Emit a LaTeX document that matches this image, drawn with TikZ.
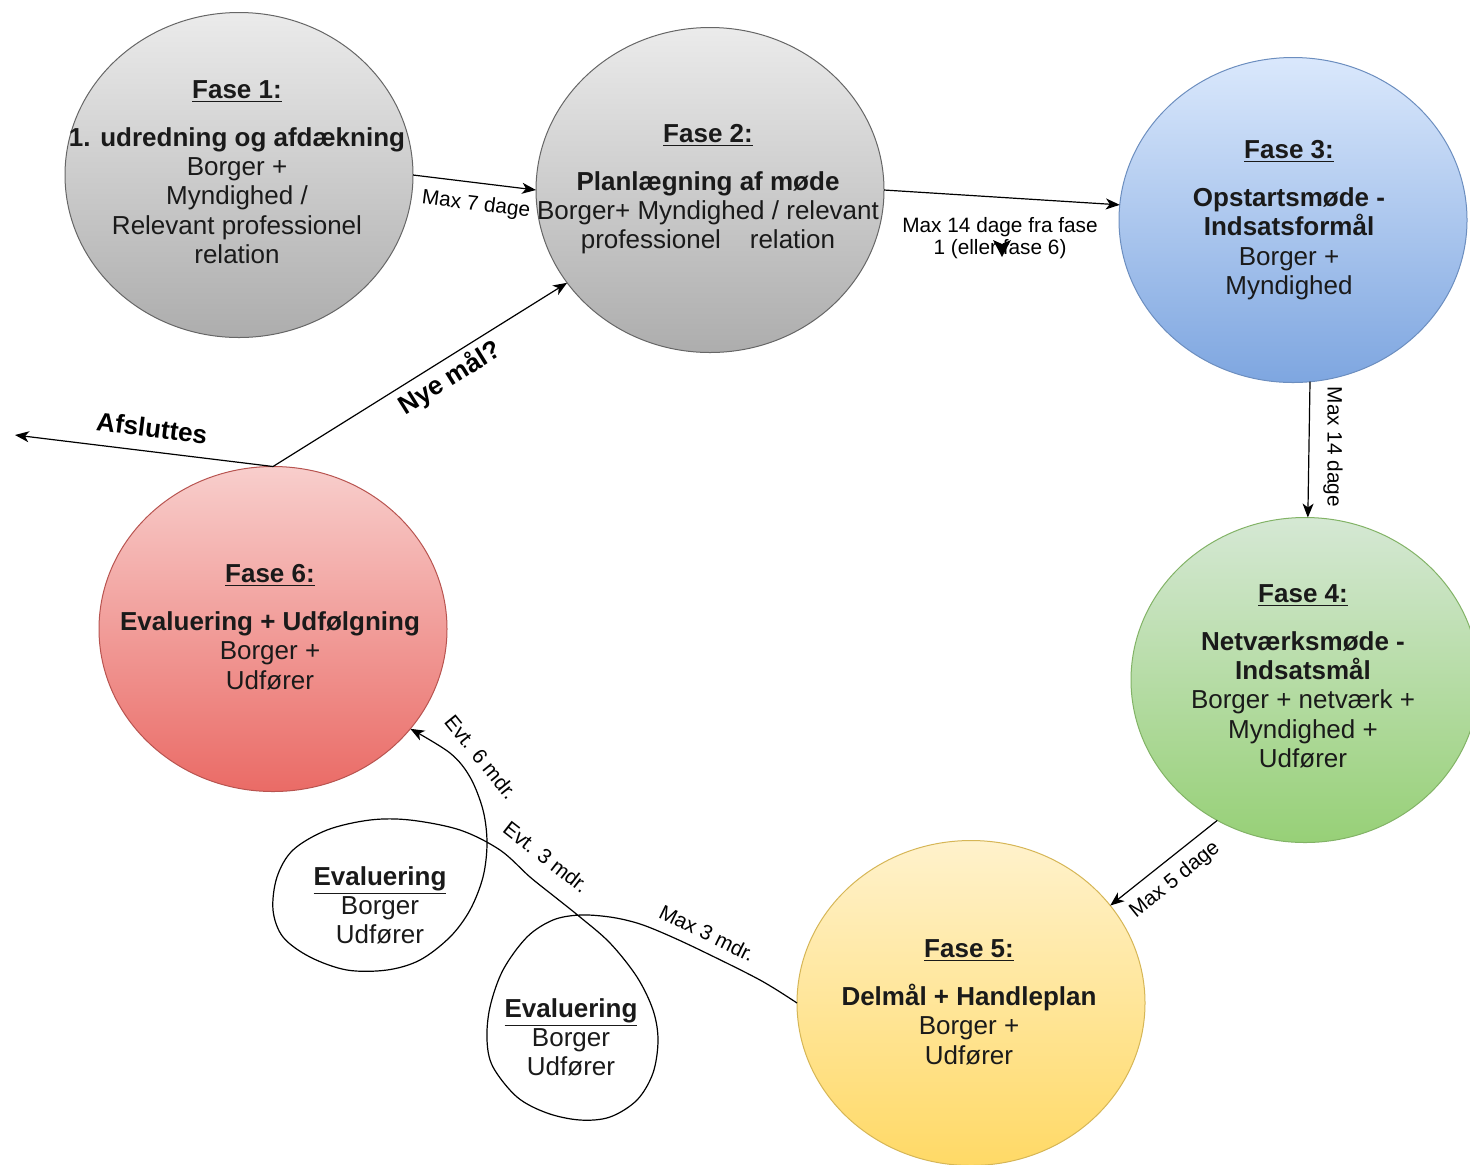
\documentclass[tikz,border=0pt]{standalone}
\usepackage{fontspec}
\setmainfont{Liberation Sans}
\usetikzlibrary{shapes.geometric,arrows.meta}
\definecolor{grayT}{HTML}{EBEBEB}
\definecolor{grayB}{HTML}{ADADAD}
\definecolor{grayD}{HTML}{666666}
\definecolor{blueT}{HTML}{DAE8FC}
\definecolor{blueB}{HTML}{7EA6E0}
\definecolor{blueD}{HTML}{6C8EBF}
\definecolor{greenT}{HTML}{D5E8D4}
\definecolor{greenB}{HTML}{97D077}
\definecolor{greenD}{HTML}{82B366}
\definecolor{yelT}{HTML}{FFF2CC}
\definecolor{yelB}{HTML}{FFD966}
\definecolor{yelD}{HTML}{D6B656}
\definecolor{redT}{HTML}{F8CECC}
\definecolor{redB}{HTML}{EA6B66}
\definecolor{redD}{HTML}{B85450}
\definecolor{txt}{HTML}{1A1A1A}
\tikzset{
  phase/.style={ellipse, draw, line width=0.5pt, minimum width=174pt, minimum height=162.5pt, inner sep=0pt, outer sep=0pt},
  ptext/.style={align=center, font=\fontsize{13pt}{14.6pt}\selectfont, inner sep=0pt, text=txt},
  smalllbl/.style={font=\fontsize{10.4pt}{10.8pt}\selectfont, inner sep=0pt, align=center},
  biglbl/.style={font=\fontsize{13pt}{15pt}\selectfont\bfseries, inner sep=0pt},
  conn/.style={line width=0.6pt, -{Stealth[length=7pt,width=5.5pt,inset=2pt]}}
}
\begin{document}
\begin{tikzpicture}[x=0.5pt,y=-0.5pt]
\useasboundingbox (0,0) rectangle (1470,1164);
\fill[white] (0,0) rectangle (1470,1164);

% phase ellipses
\node[phase, draw=grayD, top color=grayT, bottom color=grayB] (f1) at (239,175) {};
\node[phase, draw=grayD, top color=grayT, bottom color=grayB] (f2) at (710,190) {};
\node[phase, draw=blueD, top color=blueT, bottom color=blueB] (f3) at (1293,220) {};
\node[phase, draw=greenD, top color=greenT, bottom color=greenB] (f4) at (1305,680) {};
\node[phase, draw=yelD, top color=yelT, bottom color=yelB] (f5) at (971,1003) {};
\node[phase, draw=redD, top color=redT, bottom color=redB] (f6) at (273,629) {};

% phase texts
\node[ptext] (t1) at (237,172) {\underline{\textbf{Fase 1:}}\\[9.5pt]\textbf{1. udredning og afdækning}\\Borger +\\Myndighed /\\Relevant professionel\\relation};
\node[ptext] (t2) at (708,189) {\underline{\textbf{Fase 2:}}\\[9.5pt]\textbf{Planlægning af møde}\\Borger+ Myndighed / relevant\\professionel\ \ \ \ relation};
\node[ptext] (t3) at (1289,220) {\underline{\textbf{Fase 3:}}\\[9.5pt]\textbf{Opstartsmøde -}\\\textbf{Indsatsformål}\\Borger +\\Myndighed};
\node[ptext] (t4) at (1303,676) {\underline{\textbf{Fase 4:}}\\[9.5pt]\textbf{Netværksmøde -}\\\textbf{Indsatsmål}\\Borger + netværk +\\Myndighed +\\Udfører};
\node[ptext] (t5) at (969,1002) {\underline{\textbf{Fase 5:}}\\[9.5pt]\textbf{Delmål + Handleplan}\\Borger +\\Udfører};
\node[ptext] (t6) at (270,627) {\underline{\textbf{Fase 6:}}\\[9.5pt]\textbf{Evaluering + Udfølgning}\\Borger +\\Udfører};

% evaluation texts
\node[ptext] (e1) at (380,905) {\underline{\textbf{Evaluering}}\\Borger\\Udfører};
\node[ptext] (e2) at (571,1037) {\underline{\textbf{Evaluering}}\\Borger\\Udfører};

% connectors
\draw[conn] (f1.east) -- (f2.west);
\draw[conn] (f2.east) -- (f3.175);
\draw[conn] (f3.-84) -- (f4.89);
\draw[conn] (f4.-122) -- (f5.35);
\draw[conn] (f6.north) -- (f2.-147);
\coordinate (out) at (15,435);
\draw[conn] (f6.north) -- (out);
\draw[conn] plot[smooth, tension=0.55] coordinates {
  (f5.west) (760,980) (700,950) (663,933) (637,923) (610,917) (580,915)
  (553,920) (527,937) (503,970) (490,1007) (487,1040) (493,1067) (517,1097)
  (547,1113) (580,1120) (610,1117) (637,1100) (653,1073) (658,1040) (653,1010)
  (637,977) (610,943) (580,917) (555,897) (530,877) (500,850) (460,830)
  (410,820) (370,820) (327,830) (293,850) (277,877) (273,910) (283,937)
  (310,957) (347,970) (387,970) (420,960) (450,937) (470,910) (483,877)
  (487,843) (483,810) (470,777) (450,753) (f6.-36)};

% labels
\node[smalllbl, rotate=-7] (l1) at (476,205) {Max 7 dage};
\node[smalllbl] (l2) at (1000,238) {Max 14 dage fra fase\\1 (eller fase 6)};
\fill (993,240) -- (1002,244) -- (1011,240) -- (1002,257) -- cycle;
\node[smalllbl, rotate=-90] (l3) at (1333,447) {Max 14 dage};
\node[smalllbl, rotate=39] (l4) at (1175,880) {Max 5 dage};
\node[smalllbl, rotate=-26] (l5) at (707,933) {Max 3 mdr.};
\node[smalllbl, rotate=-38] (l6) at (546,857) {Evt. 3 mdr.};
\node[smalllbl, rotate=-51] (l7) at (481,757) {Evt. 6 mdr.};
\node[biglbl, rotate=32] (l8) at (450,378) {Nye mål?};
\node[biglbl, rotate=-7] (l9) at (152,428) {Afsluttes};
\end{tikzpicture}
\end{document}
